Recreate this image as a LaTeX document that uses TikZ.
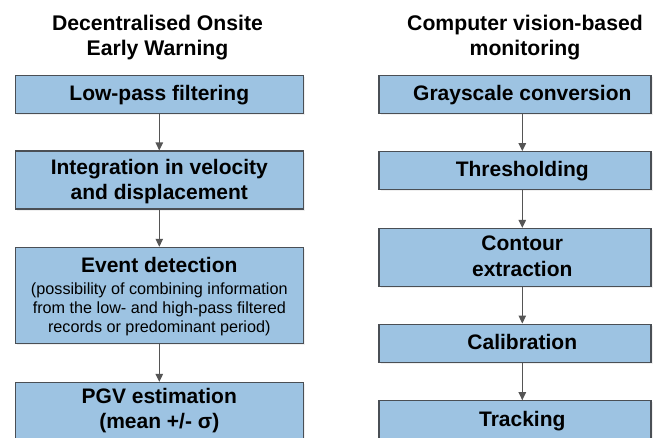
\documentclass[tikz,border=0pt]{standalone}
\usepackage{fontspec}
\setmainfont{Liberation Sans}
\usetikzlibrary{arrows.meta,shadows}
\definecolor{boxfill}{HTML}{9DC3E2}
\definecolor{boxline}{HTML}{4A4F55}
\definecolor{arrcol}{HTML}{555555}
\tikzset{
  box/.style={draw=boxline, line width=1.1pt, fill=boxfill, rectangle, inner sep=0pt,
    drop shadow={opacity=0.12, shadow xshift=1.5pt, shadow yshift=-1.5pt}},
  lbl/.style={anchor=base, inner sep=0pt, font=\fontsize{21}{25}\selectfont\bfseries},
  sublbl/.style={anchor=base, inner sep=0pt, font=\fontsize{16.2}{19.3}\selectfont},
  ttl/.style={anchor=base, inner sep=0pt, font=\fontsize{21.2}{25}\selectfont\bfseries},
  arr/.style={draw=arrcol, line width=1.1pt, -{Triangle[width=7.5pt,length=8pt]}}
}
\begin{document}
\begin{tikzpicture}[x=1pt,y=-1pt]
\clip (0,0) rectangle (653,437);
\fill[white] (0,0) rectangle (653,437);
% titles
\node[ttl] (t1a) at (157.5,30) {Decentralised Onsite};
\node[ttl] (t1b) at (157.5,55) {Early Warning};
\node[ttl] (t2a) at (525,30) {Computer vision-based};
\node[ttl] (t2b) at (525,55) {monitoring};
% left boxes
\node[box, minimum width=288pt, minimum height=38.3pt] (L1) at (159.3,94.2) {};
\node[box, minimum width=288pt, minimum height=58pt] (L2) at (159.3,180) {};
\node[box, minimum width=288pt, minimum height=96pt] (L3) at (159.3,295.3) {};
\node[box, minimum width=288pt, minimum height=62.7pt] (L4) at (159.3,413.7) {};
% right boxes
\node[box, minimum width=272pt, minimum height=38.3pt] (R1) at (515,94.2) {};
\node[box, minimum width=272pt, minimum height=37.6pt] (R2) at (515,170.5) {};
\node[box, minimum width=272pt, minimum height=57.7pt] (R3) at (515,257.2) {};
\node[box, minimum width=272pt, minimum height=38.3pt] (R4) at (515,343.2) {};
\node[box, minimum width=272pt, minimum height=39.3pt] (R5) at (515,420.4) {};
% left texts
\node[lbl] (L1t) at (159.3,100.7) {Low-pass filtering};
\node[lbl] (L2a) at (159.3,174) {Integration in velocity};
\node[lbl] (L2b) at (159.3,199.3) {and displacement};
\node[lbl] (L3a) at (159.3,272.3) {Event detection};
\node[sublbl] (L3b) at (159.3,294) {(possibility of combining information};
\node[sublbl] (L3c) at (159.3,313.3) {from the low- and high-pass filtered};
\node[sublbl] (L3d) at (159.3,332.7) {records or predominant period)};
\node[lbl] (L4a) at (159.3,403.3) {PGV estimation};
\node[lbl] (L4b) at (159.3,428.3) {(mean +/- σ)};
% right texts
\node[lbl] (R1t) at (522.3,100) {Grayscale conversion};
\node[lbl] (R2t) at (522.3,176.7) {Thresholding};
\node[lbl] (R3a) at (522.3,250) {Contour};
\node[lbl] (R3b) at (522.3,276.7) {extraction};
\node[lbl] (R4t) at (522.3,349.3) {Calibration};
\node[lbl] (R5t) at (522.3,426) {Tracking};
% arrows
\draw[arr] (L1.south) -- (L2.north);
\draw[arr] (L2.south) -- (L3.north);
\draw[arr] (L3.south) -- (L4.north);
\draw[arr] (R1.south -| R1t) -- (R2.north -| R1t);
\draw[arr] (R2.south -| R1t) -- (R3.north -| R1t);
\draw[arr] (R3.south -| R1t) -- (R4.north -| R1t);
\draw[arr] (R4.south -| R1t) -- (R5.north -| R1t);
\end{tikzpicture}
\end{document}
